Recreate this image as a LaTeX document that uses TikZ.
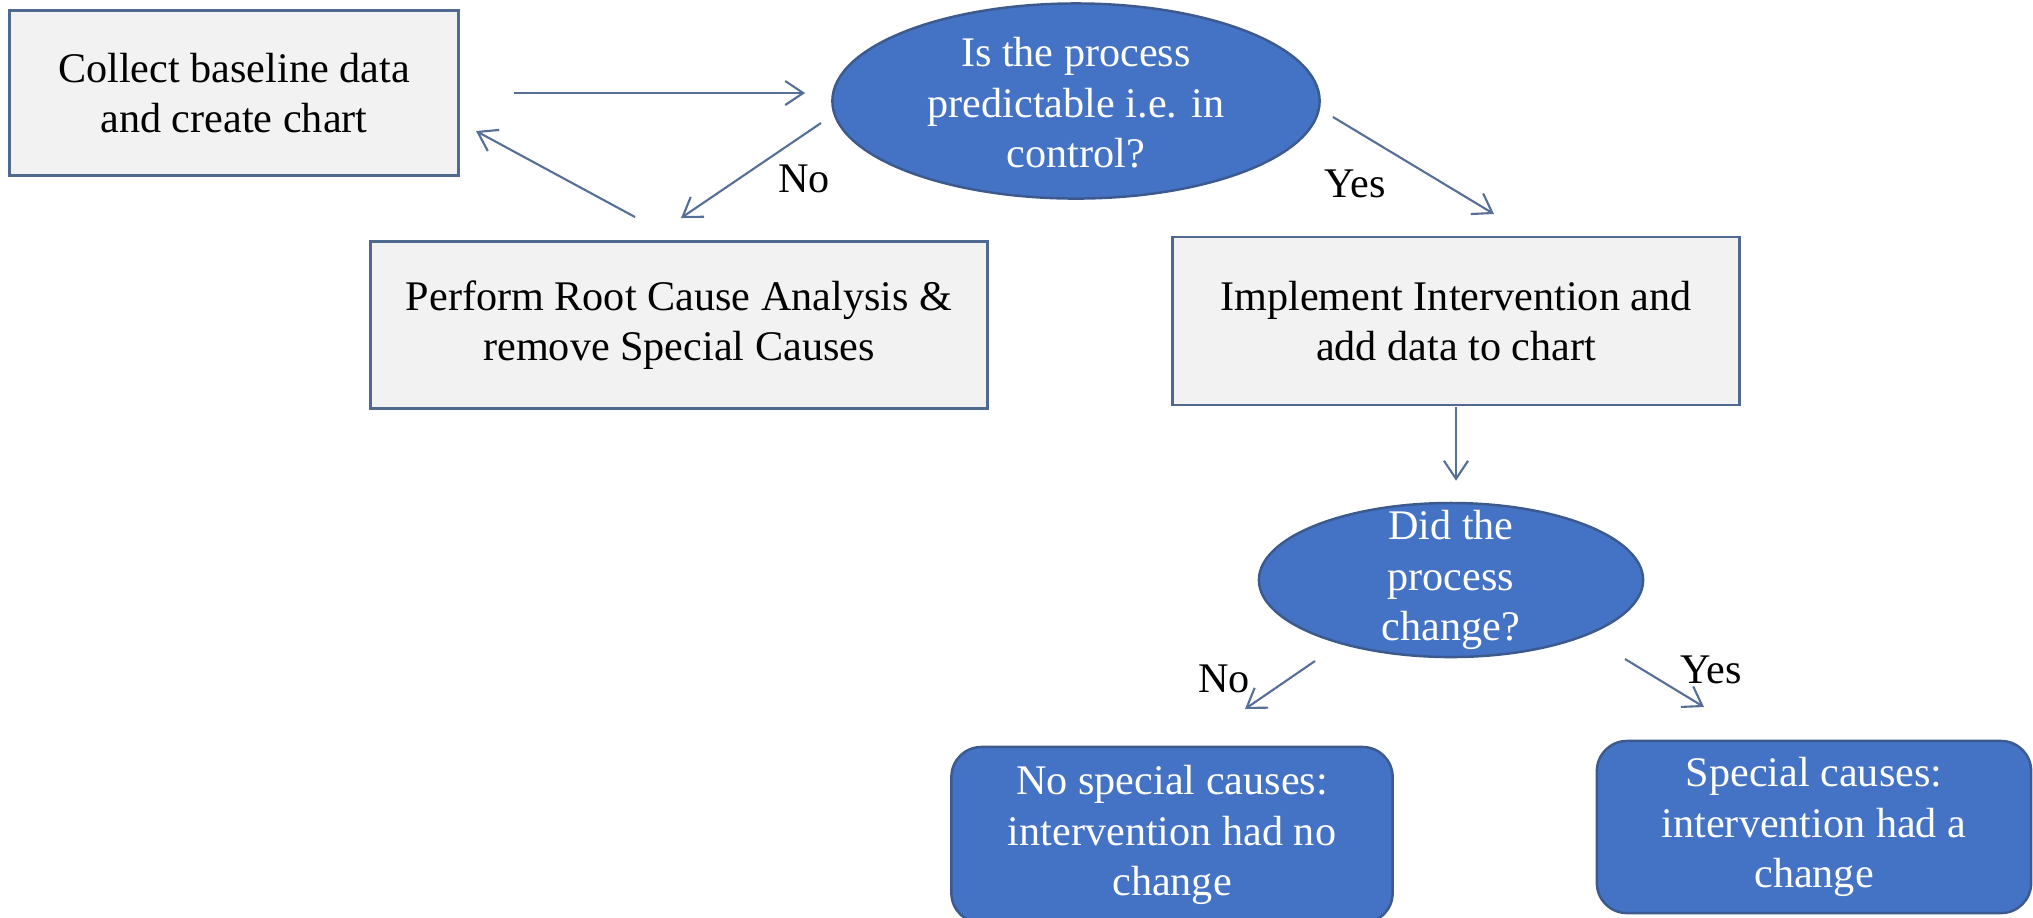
\documentclass[tikz,border=0pt]{standalone}
\usepackage{fontspec}
\setmainfont{Liberation Serif}
\usetikzlibrary{shapes.geometric,arrows.meta}

\definecolor{boxfill}{HTML}{F2F2F2}
\definecolor{boxline}{HTML}{50698F}
\definecolor{flowline}{HTML}{566F97}
\definecolor{qfill}{HTML}{4472C4}
\definecolor{qline}{HTML}{3D5A8F}

\newcommand{\flowfont}{\fontsize{12}{14.4}\selectfont}

\tikzset{
    stepbox/.style={draw=boxline, line width=0.8pt, fill=boxfill, align=center, inner sep=0pt, font=\flowfont},
    question/.style={ellipse, draw=qline, line width=0.7pt, fill=qfill, inner sep=0pt},
    qtext/.style={text=white, align=center, font=\flowfont},
    outcome/.style={draw=qline, line width=0.7pt, rounded corners=0.3cm, fill=qfill, text=white, align=center, inner sep=0pt, font=\flowfont},
    answer/.style={font=\flowfont, text=black},
    flow/.style={draw=flowline, line width=0.6pt, -{Straight Barb[length=1.8mm,width=2.4mm]}}
}

\begin{document}
\begin{tikzpicture}[x=0.01cm,y=-0.01cm]
        \useasboundingbox (0,0) rectangle (2033,917);
        % boxes and questions
        \node[stepbox, minimum width=4.48cm, minimum height=1.65cm] (collect) at (234,93) {Collect baseline data\\and create chart};
        \node[question, minimum width=4.87cm, minimum height=1.95cm, label={[qtext, yshift=-0.02cm]center:{Is the process\\predictable i.e. in\\control?}}] (inctrl) at (1076,101) {};
        \node[stepbox, minimum width=6.16cm, minimum height=1.67cm] (rootcause) at (679,325) {Perform Root Cause Analysis \&\\remove Special Causes};
        \node[stepbox, minimum width=5.67cm, minimum height=1.68cm] (implement) at (1456,321) {Implement Intervention and\\add data to chart};
        \node[question, minimum width=3.84cm, minimum height=1.54cm, label={[qtext]center:{Did the\\process\\change?}}] (didchange) at (1451,580) {};
        \node[outcome, minimum width=4.41cm, minimum height=1.76cm] (nochange) at (1172,835) {No special causes:\\intervention had no\\change};
        \node[outcome, minimum width=4.34cm, minimum height=1.72cm] (haschange) at (1814,827) {Special causes:\\intervention had a\\change};
        % free arrow ends
        \coordinate (noA) at (821,123);
        \coordinate (noB) at (681,218);
        \coordinate (backA) at (635,217);
        \coordinate (backB) at (476,131);
        \coordinate (yesA) at (1333,117);
        \coordinate (yesB) at (1494,214);
        \coordinate (no2A) at (1315,661);
        \coordinate (no2B) at (1245,709);
        \coordinate (yes2A) at (1625,659);
        \coordinate (yes2B) at (1704,707);
        % arrows
        \draw[flow, shorten <=0.54cm, shorten >=0.26cm] (collect.east) -- (collect.east -| inctrl.west);
        \draw[flow] (noA) -- (noB);
        \draw[flow] (backA) -- (backB);
        \draw[flow] (yesA) -- (yesB);
        \draw[flow, shorten <=0.01cm, shorten >=0.21cm] (implement.south) -- (implement.south |- didchange.north);
        \draw[flow] (no2A) -- (no2B);
        \draw[flow] (yes2A) -- (yes2B);
        % answers
        \node[answer] (no1) at (804,179) {No};
        \node[answer] (yes1) at (1355,184) {Yes};
        \node[answer] (no2) at (1224,679) {No};
        \node[answer] (yes2) at (1711,670) {Yes};
    \end{tikzpicture}
\end{document}
